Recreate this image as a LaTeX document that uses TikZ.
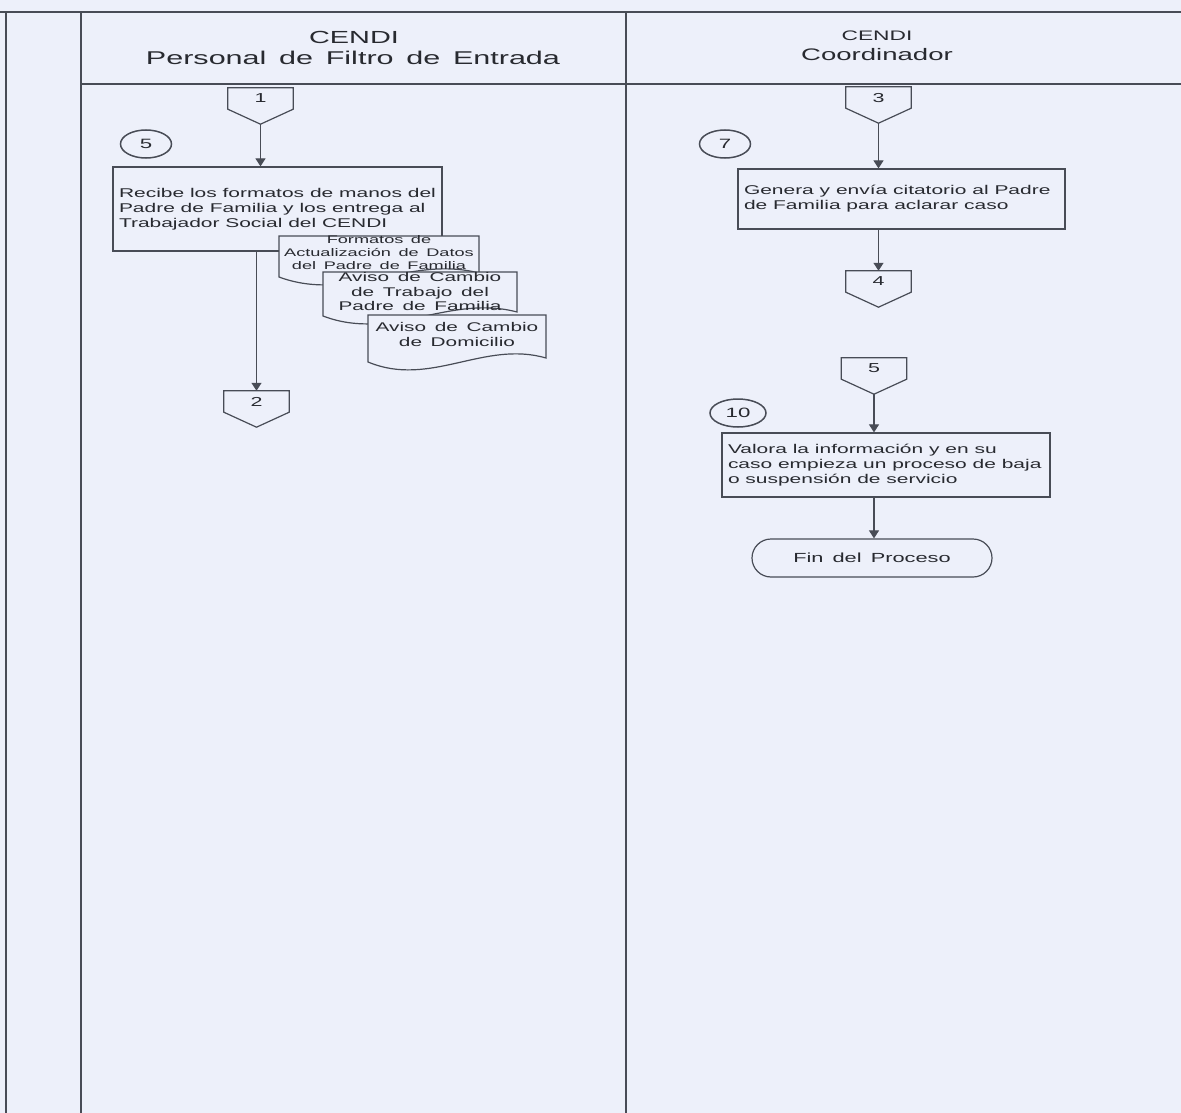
\documentclass[tikz,border=0pt]{standalone}
\usepackage{fontspec}
\setmainfont{Liberation Sans}[FakeStretch=1.65, WordSpace=1.5]
\usetikzlibrary{arrows.meta,shapes.geometric,calc}

\definecolor{paper}{RGB}{237,240,250}
\definecolor{ink}{RGB}{72,76,86}
\definecolor{txt}{RGB}{40,42,48}

\newcommand\fsz[2]{\fontsize{#1}{#2}\selectfont}

% off-page connector: name, x, y of the centre of its upper part, label
\newcommand\offpg[4]{%
  \node[offtop] (#1) at (#2,#3) {#4};
  \coordinate (#1tip) at ($(#1.south)+(0,15)$);
  \draw[shapeline] (#1.north west) -- (#1.north east) -- (#1.south east)
    -- (#1tip) -- (#1.south west) -- cycle;
}

% document symbol: left x, top y, right x, bottom y of the left side
\newcommand\docsym[4]{%
  \draw[shapeline, fill=paper] (#1,#2) -- (#3,#2) -- (#3,#4-4)
    .. controls ($(#1,#4)!0.65!(#3,#4)+(0,-22)$) and ($(#1,#4)!0.35!(#3,#4)+(0,26)$)
    .. (#1,#4) -- cycle;
}

\tikzset{
  lane/.style={draw=ink, line width=1.7pt},
  shapeline/.style={draw=ink, line width=1.2pt},
  offtop/.style={minimum width=65pt, minimum height=21pt, inner sep=0pt,
    text=txt, font=\fsz{13}{15}, text depth=-2pt},
  numoval/.style={ellipse, draw=ink, line width=1.5pt, minimum width=51pt,
    minimum height=28pt, inner sep=0pt, text=txt, font=\fsz{13.5}{15}},
  procbox/.style={rectangle, shapeline, inner xsep=6pt, inner ysep=0pt,
    align=left, text=txt, font=\fsz{12.7}{14.8},
    execute at begin node={\spaceskip=0.46em\relax}},
  doctext/.style={align=center, inner sep=0pt, text=txt},
  endbox/.style={rectangle, rounded corners=19pt, shapeline, minimum width=240pt,
    minimum height=38pt, text=txt, font=\fsz{13.2}{15}},
  flow/.style={draw=ink, line width=1.1pt, -{Triangle[width=10pt,length=8pt]}},
  head/.style={inner sep=0pt, text=txt}
}

\begin{document}
\begin{tikzpicture}[x=1pt, y=-1pt]
  \useasboundingbox (0,0) rectangle (1181,1113);
  \fill[paper] (0,0) rectangle (1181,1113);

  % swimlane frame
  \draw[lane] (0,12) -- (1181,12);
  \draw[lane] (6,12) -- (6,1113);
  \draw[lane] (81,12) -- (81,1113);
  \draw[lane] (626,12) -- (626,1113);
  \draw[lane] (81,84) -- (1181,84);

  % lane headings
  \node[head, font=\fsz{17.5}{20}] (h1a) at (354,37) {CENDI};
  \node[head, font=\fsz{18.5}{22}] (h1b) at (353,58) {Personal de Filtro de Entrada};
  \node[head, font=\fsz{13.8}{16}] (h2a) at (877,36) {CENDI};
  \node[head, font=\fsz{16.7}{19}] (h2b) at (877,55) {Coordinador};

  % left lane
  \offpg{c1}{260.5}{98.5}{1}
  \node[numoval] (n5) at (146,144) {5};
  \node[procbox, text width=317pt, minimum height=84pt] (b1) at (277.5,209)
    {Recibe los formatos de manos del\\Padre de Familia y los entrega al\\Trabajador Social del CENDI};

  \docsym{279}{236}{479}{277}
  \node[doctext, font=\fsz{11}{13}] (d1) at (379,253)
    {Formatos de\\Actualización de Datos\\del Padre de Familia};
  \docsym{323}{272}{517}{316}
  \node[doctext, font=\fsz{12.6}{14.5}] (d2) at (420,291.5)
    {Aviso de Cambio\\de Trabajo del\\Padre de Familia};
  \docsym{368}{315}{546}{362}
  \node[doctext, font=\fsz{12.6}{14.5}] (d3) at (457,334.5)
    {Aviso de Cambio\\de Domicilio};

  \offpg{c2}{256.5}{401.5}{2}

  \draw[flow] (c1tip) -- (c1tip |- b1.north);
  \draw[flow] (c2.north |- b1.south) -- (c2.north);

  % right lane
  \offpg{c3}{878.5}{97.5}{3}
  \node[numoval] (n7) at (725,144) {7};
  \node[procbox, text width=315pt, minimum height=60pt] (b2) at (901.5,199)
    {Genera y envía citatorio al Padre\\de Familia para aclarar caso};
  \offpg{c4}{878.5}{281.5}{4}

  \offpg{c5}{874}{368.5}{5}
  \node[numoval, minimum width=56pt] (n10) at (738,413) {10};
  \node[procbox, text width=316pt, minimum height=64pt] (b3) at (886,465)
    {Valora la información y en su\\caso empieza un proceso de baja\\o suspensión de servicio};
  \node[endbox] (fin) at (872,558) {Fin del Proceso};

  \draw[flow] (c3tip) -- (c3tip |- b2.north);
  \draw[flow] (c4.north |- b2.south) -- (c4.north);
  \draw[flow] (c5tip) -- (c5tip |- b3.north);
  \draw[flow] (c5tip |- b3.south) -- (c5tip |- fin.north);
\end{tikzpicture}
\end{document}
